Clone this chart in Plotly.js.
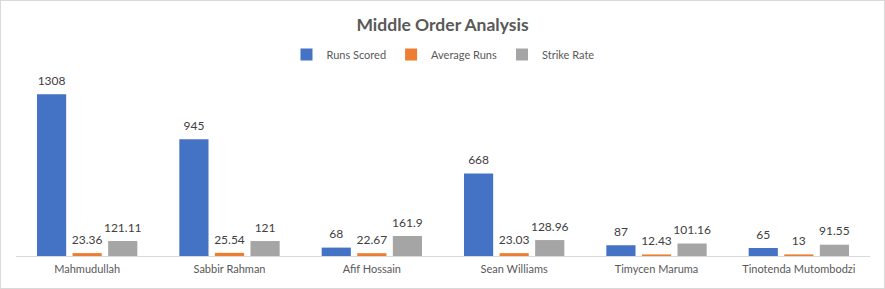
<!DOCTYPE html>
<html><head><meta charset="utf-8">
<script src="https://cdn.plot.ly/plotly-3.0.1.min.js"></script>
<style>
html,body{margin:0;padding:0;background:#fff;}
#chart{width:885px;height:289px;box-sizing:border-box;border:1px solid #d9d9d9;}
</style></head>
<body><div id="chart"></div>
<script>
const players = ["Mahmudullah","Sabbir Rahman","Afif Hossain","Sean Williams","Timycen Maruma","Tinotenda Mutombodzi"];
const runsScored = [1308,945,68,668,87,65];
const averageRuns = [23.36,25.54,22.67,23.03,12.43,13];
const strikeRate = [121.11,121,161.9,128.96,101.16,91.55];
const seriesNames = ["Runs Scored","Average Runs","Strike Rate"];
const colors = ["#4472C4","#ED7D31","#A5A5A5"];

const font = "Lato, 'Open Sans', sans-serif";
const data = [runsScored, averageRuns, strikeRate].map((v,i)=>({
  type:"bar", x:players, y:v, name:seriesNames[i],
  marker:{color:colors[i]},
  text:v.map(String),
  texttemplate:"<span style='font-size:12px'>%{text}</span><br> ",
  textposition:"outside", cliponaxis:false, constraintext:"none",
  textfont:{family:font,size:4,color:"#404040"},
  hoverinfo:"x+y+name"
}));
const layout = {
  width:883, height:287,
  margin:{l:15,r:14,t:82,b:32},
  paper_bgcolor:"#fff", plot_bgcolor:"#fff",
  barmode:"group", bargap:0.25, bargroupgap:0.18,
  uniformtext:{mode:false},
  title:{text:"<b>Middle Order Analysis</b>", x:0.5, xanchor:"center", y:0.918, yanchor:"middle",
    font:{family:font,size:17.5,color:"#595959"}},
  legend:{orientation:"h", x:0.5, xanchor:"center", y:1.165, yanchor:"middle",
    font:{family:font,size:11,color:"#595959"}, itemwidth:30, traceorder:"normal"},
  xaxis:{showline:true, linecolor:"#d9d9d9", linewidth:1, ticks:"", showgrid:false,
    ticklabelstandoff:3,
    tickfont:{family:font,size:11,color:"#595959"}, fixedrange:true},
  yaxis:{range:[0,1400], visible:false, showgrid:false, zeroline:false, fixedrange:true},
  showlegend:true
};
Plotly.newPlot("chart", data, layout, {displayModeBar:false, staticPlot:true});
</script></body></html>
